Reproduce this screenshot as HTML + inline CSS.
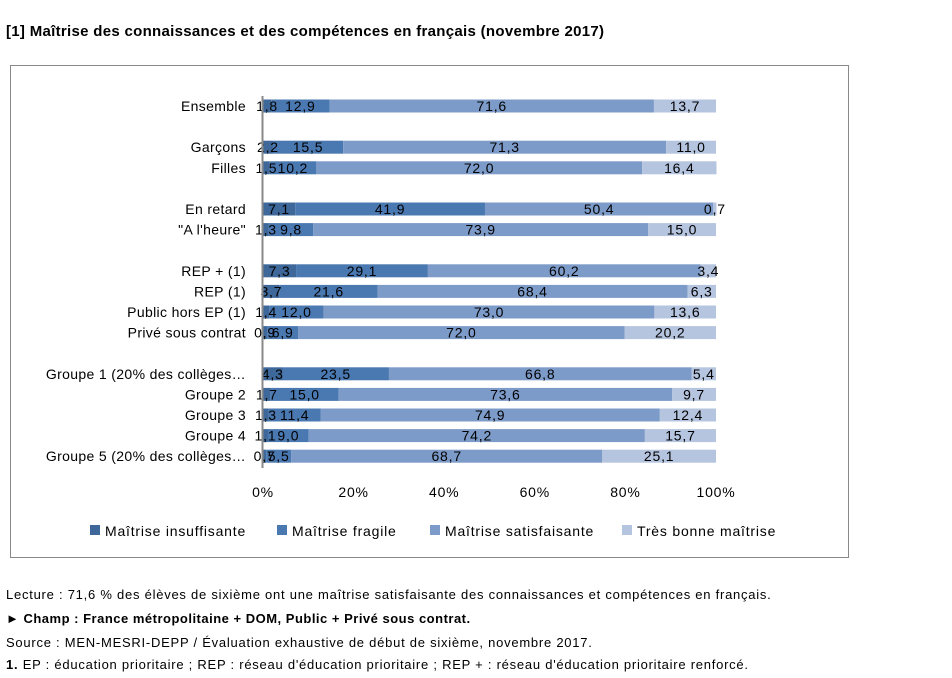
<!DOCTYPE html>
<html><head><meta charset="utf-8"><style>
body{margin:0;background:#fff;width:952px;height:678px;overflow:hidden;font-family:"Liberation Sans",sans-serif;position:relative}
.t{position:absolute;font-size:13px;letter-spacing:0.75px;color:#000;white-space:nowrap}
</style></head><body>
<div class="t" style="left:6px;top:23px;font-weight:bold;font-size:15px;letter-spacing:0.3px">[1] Maîtrise des connaissances et des compétences en français (novembre 2017)</div>
<svg width="952" height="678" style="position:absolute;left:0;top:0;pointer-events:none" id="svg">
<rect x="10.5" y="65.5" width="838" height="492" fill="none" stroke="#898989"/>
<g id="g"></g>
</svg>
<div class="t" style="left:6px;top:587px">Lecture : 71,6 % des élèves de  sixième ont une maîtrise satisfaisante  des connaissances et compétences en français.</div>
<div class="t" style="left:6px;top:611px;font-weight:bold;letter-spacing:0.5px">► Champ : France métropolitaine + DOM, Public + Privé sous contrat.</div>
<div class="t" style="left:6px;top:635px">Source : MEN-MESRI-DEPP / Évaluation exhaustive de début de sixième, novembre 2017.</div>
<div class="t" style="left:6px;top:657px"><b>1.</b> EP : éducation prioritaire ; REP : réseau d'éducation prioritaire ; REP + : réseau d'éducation prioritaire renforcé.</div>
<script>
const categories=["Ensemble","Garçons","Filles","En retard","\"A l'heure\"","REP + (1)","REP (1)","Public hors EP (1)","Privé sous contrat","Groupe 1 (20% des collèges…","Groupe 2","Groupe 3","Groupe 4","Groupe 5 (20% des collèges…"];
const rowSlots=[0,2,3,5,6,8,9,10,11,13,14,15,16,17];
const insuffisante=[1.8,2.2,1.5,7.1,1.3,7.3,3.7,1.4,0.9,4.3,1.7,1.3,1.1,0.7];
const fragile=[12.9,15.5,10.2,41.9,9.8,29.1,21.6,12.0,6.9,23.5,15.0,11.4,9.0,5.5];
const satisfaisante=[71.6,71.3,72.0,50.4,73.9,60.2,68.4,73.0,72.0,66.8,73.6,74.9,74.2,68.7];
const tresBonne=[13.7,11.0,16.4,0.7,15.0,3.4,6.3,13.6,20.2,5.4,9.7,12.4,15.7,25.1];
const seriesNames=["Maîtrise insuffisante","Maîtrise fragile","Maîtrise satisfaisante","Très bonne maîtrise"];
const ticks=[0,20,40,60,80,100];
const colors=["#3d6899","#4a78b0","#7d9bc9","#b5c4df"];
const X0=263,X1=716,Y0=106,SL=20.6,BH=13;
const xs=v=>X0+(X1-X0)*v/100, ys=s=>Y0+s*SL;
const NS="http://www.w3.org/2000/svg",g=document.getElementById('g');
const FA={'font-size':'14','font-family':'Liberation Sans, sans-serif','letter-spacing':'0.8'};
function mk(t,a,b){const e=document.createElementNS(NS,t);for(const k in a)e.setAttribute(k,a[k]);if(b)for(const k in b)e.setAttribute(k,b[k]);g.appendChild(e);return e;}
const series=[insuffisante,fragile,satisfaisante,tresBonne];
const labels=[];
categories.forEach((c,i)=>{
 const y=ys(rowSlots[i]);let acc=0;
 const l=mk('text',{x:246,y:y+5,'text-anchor':'end'},FA);l.textContent=c;
 l.setAttribute('letter-spacing','0.35');
 
 
 series.forEach((s,k)=>{
  const v=s[i];const r=mk('rect',{x:xs(acc),y:y-BH/2,width:xs(acc+v)-xs(acc),height:BH,fill:colors[k]});
  
  
  labels.push([(xs(acc)+xs(acc+v))/2,y,v]);
  acc+=v;
 });
});
labels.forEach(([x,y,v])=>{
  const t=mk('text',{x:x,y:y+5,'text-anchor':'middle'},FA);
  t.textContent=v.toFixed(1).replace('.',',');
  
  
});
const ax=mk('line',{x1:262.5,x2:262.5,y1:96,y2:468,stroke:'#898989','stroke-width':2});


ticks.forEach(t=>{const e=mk('text',{x:xs(t),y:497,'text-anchor':'middle'},FA);e.textContent=t+'%';
 
 });
const lx=[90,277,430,622];
seriesNames.forEach((n,k)=>{
 const r=mk('rect',{x:lx[k],y:525,width:10,height:10,fill:colors[k]});
 
 
 const t=mk('text',{x:lx[k]+15,y:536},FA);t.textContent=n;
 
 
});
</script>
</body></html>
